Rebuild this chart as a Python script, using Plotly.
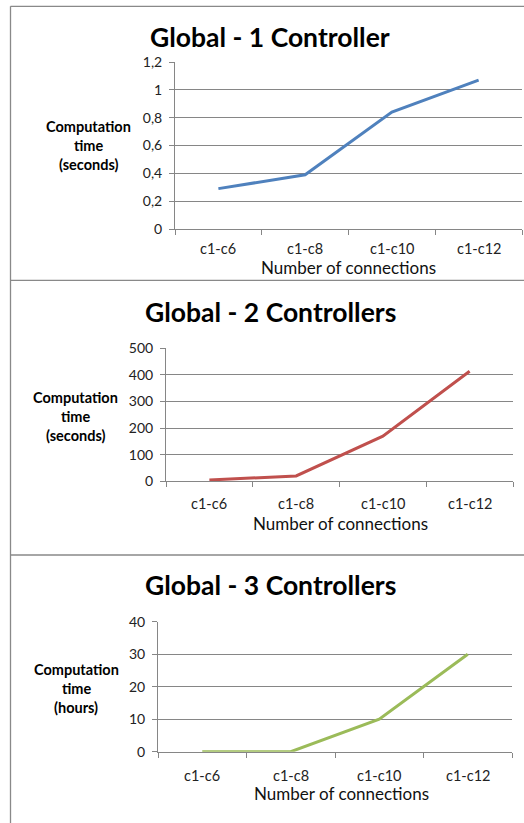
import plotly.graph_objects as go

# ---- data ----
categories = ["c1-c6", "c1-c8", "c1-c10", "c1-c12"]
one_controller_s = [0.29, 0.39, 0.84, 1.07]
two_controllers_s = [5, 20, 170, 414]
three_controllers_h = [0, 0, 10, 30]

titles = ["Global - 1 Controller", "Global - 2 Controllers", "Global - 3 Controllers"]
units = ["(seconds)", "(seconds)", "(hours)"]
x_title = "Number of connections"

series = [one_controller_s, two_controllers_s, three_controllers_h]
colors = ["#4F81BD", "#C0504D", "#9BBB59"]
y_ranges = [(0, 1.2), (0, 500), (0, 40)]
y_dticks = [0.2, 100, 10]

W, H = 524, 823
FONT = "Lato"
GRID = "#868686"

# pixel layout of each panel: plot left/right, top/bottom, title centre, y-title centre
panels = [
    dict(x0=175, x1=522, y0=62, y1=229, title_y=37, ytitle_x=88, ytitle_y=146,
         xlab_y=249, xtitle_y=268, xtitle_x=348),
    dict(x0=166, x1=513, y0=348.3, y1=481.3, title_y=312, ytitle_x=75, ytitle_y=416,
         xlab_y=503, xtitle_y=523, xtitle_x=340),
    dict(x0=158, x1=512, y0=621.7, y1=751.7, title_y=585, ytitle_x=76, ytitle_y=688,
         xlab_y=775, xtitle_y=793, xtitle_x=341),
]


def px(x):
    return x / W


def py(y):
    return 1 - y / H


fig = go.Figure()
annotations = []
shapes = []

for i, (vals, col, p) in enumerate(zip(series, colors, panels)):
    n = "" if i == 0 else str(i + 1)
    xa, ya = "x" + n, "y" + n
    fig.add_trace(go.Scatter(
        x=categories, y=vals, mode="lines",
        line=dict(color=col, width=3),
        xaxis=xa, yaxis=ya, showlegend=False, hoverinfo="x+y",
    ))
    fig.layout["xaxis" + n] = dict(
        domain=[px(p["x0"]), px(p["x1"])],
        anchor=ya, type="category", range=[-0.5, 3.5],
        tickson="boundaries", ticks="outside", ticklen=5, tickcolor=GRID,
        showline=True, linecolor=GRID, linewidth=1, showgrid=False,
        showticklabels=False, fixedrange=True, automargin=False,
    )
    fig.layout["yaxis" + n] = dict(
        domain=[py(p["y1"]), py(p["y0"])],
        anchor=xa, range=list(y_ranges[i]), dtick=y_dticks[i],
        ticks="outside", ticklen=5, tickcolor=GRID,
        showline=True, linecolor=GRID, linewidth=1,
        showgrid=True, gridcolor=GRID, gridwidth=1, zeroline=False,
        tickfont=dict(family=FONT, size=14, color="#222"),
        ticklabelstandoff=4, fixedrange=True, automargin=False,
    )
    # category labels centred under each category
    for c in categories:
        annotations.append(dict(
            x=c, y=py(p["xlab_y"]), xref=xa, yref="paper", text=c,
            showarrow=False, xanchor="center", yanchor="middle",
            font=dict(family=FONT, size=14.5, color="#222"),
        ))
    annotations.append(dict(
        x=px(p["xtitle_x"]), y=py(p["xtitle_y"]), xref="paper", yref="paper",
        text=x_title, showarrow=False, xanchor="center", yanchor="middle",
        font=dict(family=FONT, size=17, color="#111"),
    ))
    annotations.append(dict(
        x=px(270), y=py(p["title_y"]), xref="paper", yref="paper",
        text="<b>" + titles[i] + "</b>", showarrow=False,
        xanchor="center", yanchor="middle",
        font=dict(family=FONT, size=26.5, color="#000"),
    ))
    for k, line in enumerate(["Computation", "time", units[i]]):
        annotations.append(dict(
            x=px(p["ytitle_x"]), y=py(p["ytitle_y"] + (k - 1) * 19),
            xref="paper", yref="paper", text="<b>" + line + "</b>",
            showarrow=False, xanchor="center", yanchor="middle",
            font=dict(family=FONT, size=14.5, color="#000"),
        ))

# chart-area borders
border = dict(color="#898989", width=1.3)
shapes.append(dict(type="line", xref="paper", yref="paper",
                   x0=px(10.5), x1=px(10.5), y0=py(6.3), y1=py(823), line=border))
for yy in (6.3, 280.3, 555):
    shapes.append(dict(type="line", xref="paper", yref="paper",
                       x0=px(10.5), x1=px(524), y0=py(yy), y1=py(yy), line=border))

fig.update_layout(
    template="none",
    width=W, height=H,
    margin=dict(l=0, r=0, t=0, b=0, pad=0, autoexpand=False),
    paper_bgcolor="white", plot_bgcolor="white",
    separators=",.",
    annotations=annotations, shapes=shapes,
    font=dict(family=FONT),
)

fig.write_html(
    "out.html",
    config={"displayModeBar": False},
    post_script="document.body.style.margin='0';"
                "document.documentElement.style.overflow='hidden';",
)
